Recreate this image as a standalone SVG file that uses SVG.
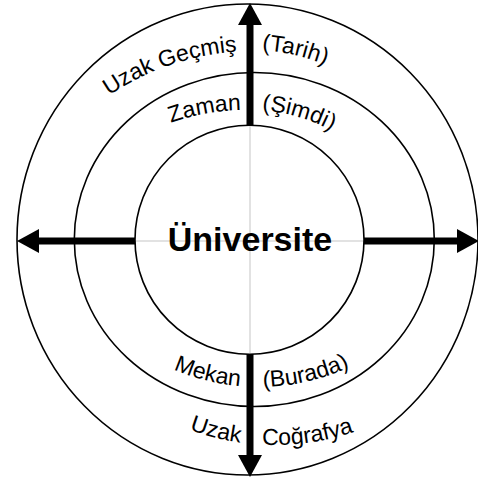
<svg xmlns="http://www.w3.org/2000/svg" width="478" height="479" viewBox="0 0 478 479">
  <style>
    .ring { fill: none; stroke: #000; stroke-width: 1.6; }
    .lbl { font-family: "Liberation Sans", Arial, sans-serif; font-size: 23px; fill: #000; }
    .title { font-family: "Liberation Sans", Arial, sans-serif; font-size: 34px; font-weight: bold; fill: #000; }
    .cross { stroke: #e2e2e2; stroke-width: 2; }
    .shaft { stroke: #000; stroke-width: 7; fill: none; marker-end: url(#head); }
  </style>
  <defs>
    <marker id="head" markerUnits="userSpaceOnUse" markerWidth="22" markerHeight="24" viewBox="0 0 22 24" refX="0" refY="12" orient="auto">
      <path d="M0,0 L22,12 L0,24 z" fill="#000"/>
    </marker>
    <path id="pTopOutL" d="M30.6,180 A258,258 0 0,1 237,51.6"/>
    <path id="pTopOutR" d="M262,50.36 A200,200 0 0,1 450,250"/>
    <path id="pTopInL" d="M54.5,220 A220,220 0 0,1 241,110.04"/>
    <path id="pTopInR" d="M262,110.42 A170,170 0 0,1 420,280"/>
    <path id="pBotInL" d="M72.8,279.5 A215,215 0 0,0 240,386.2"/>
    <path id="pBotInR" d="M263,386.96 A215,215 0 0,0 445.2,279.5"/>
    <path id="pBotOutL" d="M62.8,322.5 A245,245 0 0,0 240,442.5"/>
    <path id="pBotOutR" d="M262,444.65 A245,245 0 0,0 487.2,322.5"/>
  </defs>
  <rect x="0" y="0" width="478" height="479" fill="#fff"/>

  <g id="outer-ring">
    <ellipse class="ring" cx="247.5" cy="239.5" rx="230.5" ry="235.5"/>
    <text class="lbl"><textPath href="#pTopOutL" startOffset="100%" text-anchor="end">Uzak Geçmiş</textPath></text>
    <text class="lbl"><textPath href="#pTopOutR">(Tarih)</textPath></text>
    <text class="lbl"><textPath href="#pBotOutL" startOffset="100%" text-anchor="end">Uzak</textPath></text>
    <text class="lbl"><textPath href="#pBotOutR">Coğrafya</textPath></text>
  </g>

  <g id="middle-ring">
    <ellipse class="ring" cx="254.3" cy="239.5" rx="180" ry="167"/>
    <text class="lbl"><textPath href="#pTopInL" startOffset="100%" text-anchor="end">Zaman</textPath></text>
    <text class="lbl"><textPath href="#pTopInR">(Şimdi)</textPath></text>
    <text class="lbl"><textPath href="#pBotInL" startOffset="100%" text-anchor="end">Mekan</textPath></text>
    <text class="lbl"><textPath href="#pBotInR">(Burada)</textPath></text>
  </g>

  <g id="universite">
    <circle class="ring" cx="249.5" cy="239.7" r="114.5"/>
    <line class="cross" x1="250" y1="126" x2="250" y2="353"/>
    <line class="cross" x1="136" y1="241" x2="363" y2="241"/>
    <text class="title" x="250" y="251" text-anchor="middle">Üniversite</text>
  </g>

  <g id="connectors">
    <line class="shaft" x1="250" y1="125.5" x2="250" y2="25"/>
    <line class="shaft" x1="250" y1="354" x2="250" y2="455"/>
    <line class="shaft" x1="135" y1="241" x2="39" y2="241"/>
    <line class="shaft" x1="364" y1="241" x2="457" y2="241"/>
  </g>
</svg>
